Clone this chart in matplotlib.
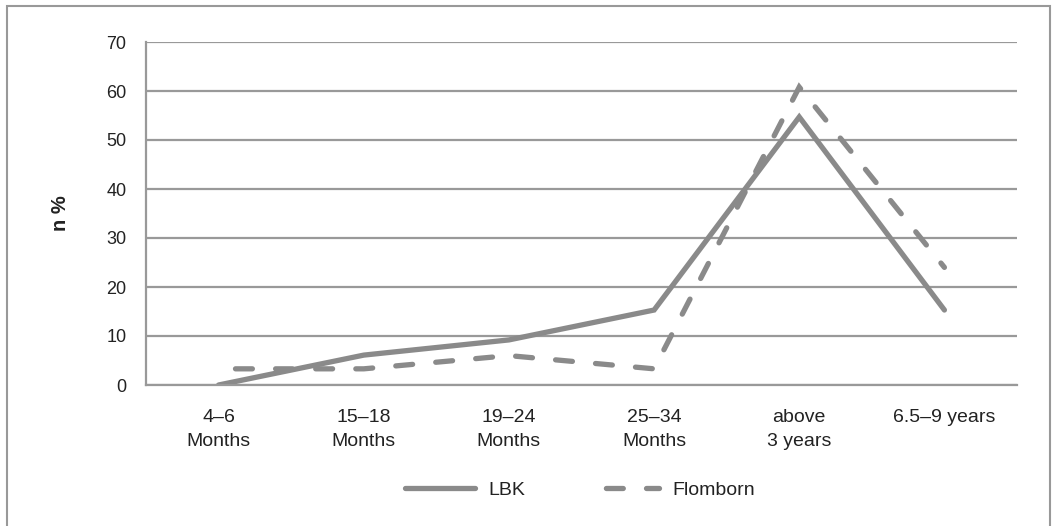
import matplotlib
matplotlib.use("Agg")
import matplotlib.pyplot as plt
import numpy as np
from matplotlib.patches import Rectangle

categories = ["4\u20136\nMonths", "15\u201318\nMonths", "19\u201324\nMonths",
              "25\u201334\nMonths", "above\n3 years", "6.5\u20139 years"]
lbk = [0, 6.1, 9.2, 15.3, 54.7, 15.3]
flomborn = [3.3, 3.3, 6.0, 3.3, 60.8, 24.0]
yticks = [0, 10, 20, 30, 40, 50, 60, 70]

plt.rcParams['font.family'] = ['Liberation Sans', 'DejaVu Sans']
W, H = 1057, 526
fig = plt.figure(figsize=(W / 100, H / 100), dpi=100)
ax = fig.add_axes([146 / W, 1 - 385 / H, (1017 - 146) / W, (385 - 42) / H])

line_col = "#8a8a8a"
grid_col = "#999999"
txt_col = "#222222"
x = list(range(len(categories)))
ax.set_xlim(-0.5, len(categories) - 0.5)
ax.set_ylim(0, 70)

lw = 3.8
on, off = 3.2, 4.4
# choose dash offset so that a dash is centered on the peak
pts = ax.transData.transform(np.column_stack([x, flomborn])) * 72 / fig.dpi
seg = np.hypot(*np.diff(pts, axis=0).T)
peak_i = int(np.argmax(flomborn))
L = seg[:peak_i].sum() / lw
period = on + off
offset = (L - on / 2) % period

ax.plot(x, lbk, color=line_col, lw=lw, solid_capstyle='round', solid_joinstyle='miter', label="LBK")
ax.plot(x, flomborn, color=line_col, lw=lw, linestyle=(offset, (on, off)), dash_capstyle='round',
        dash_joinstyle='miter', label="Flomborn")

ax.set_yticks(yticks)
ax.set_xticks(x)
ax.set_xticklabels(categories, fontsize=14, color=txt_col, linespacing=1.55)
ax.tick_params(axis='y', labelsize=13, colors=txt_col, length=0, pad=14)
ax.tick_params(axis='x', length=0, pad=17)
ax.yaxis.grid(True, color=grid_col, lw=1.6)
ax.set_axisbelow(True)
for s in ["top", "right"]:
    ax.spines[s].set_visible(False)
ax.spines["left"].set_color(grid_col)
ax.spines["left"].set_linewidth(1.6)
ax.spines["bottom"].set_color(grid_col)
ax.spines["bottom"].set_linewidth(1.6)

ax.set_ylabel("n %", fontsize=14.5, fontweight='bold', color=txt_col, labelpad=26)

leg = fig.legend(loc='center', bbox_to_anchor=(580 / W, 1 - 490 / H), ncol=2, frameon=False,
                 fontsize=14, handlelength=3.6, columnspacing=3.3, handletextpad=0.7)
for t in leg.get_texts():
    t.set_color(txt_col)

fig.patches.append(Rectangle((7 / W, -0.01), (1050 - 7) / W, 1 - 6 / H + 0.01,
                             transform=fig.transFigure, fill=False, edgecolor="#999999", lw=1.5))

fig.savefig("out.png", dpi=100)
